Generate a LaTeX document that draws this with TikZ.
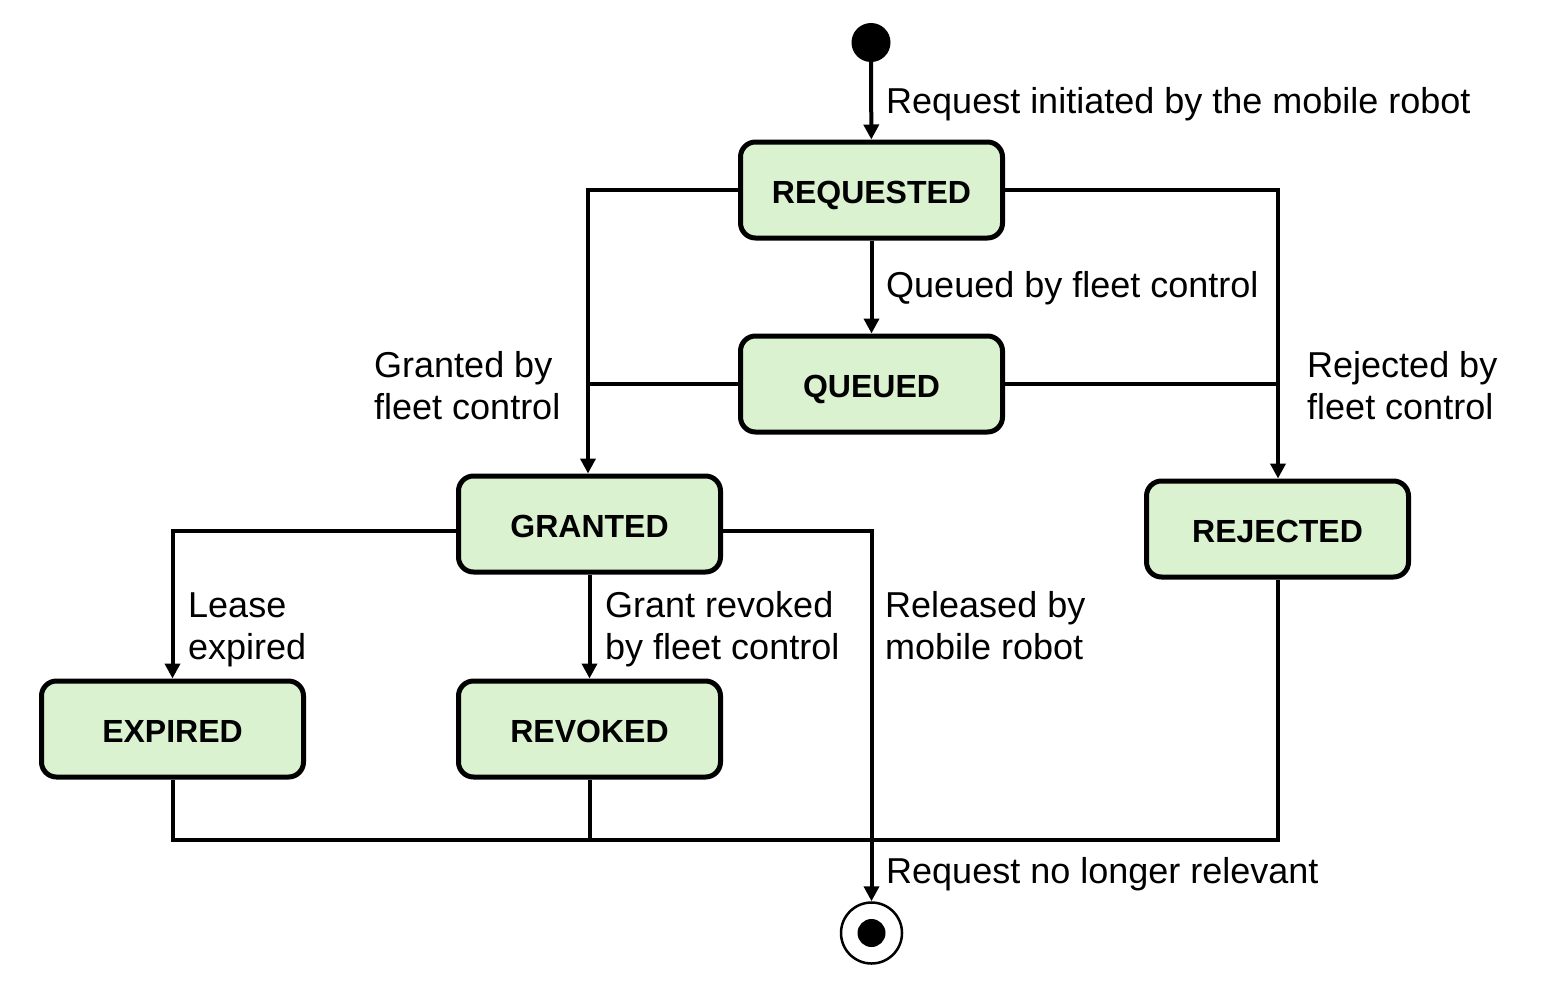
\documentclass[tikz,border=0pt]{standalone}
\usepackage{fontspec}
\setmainfont{Liberation Sans}
\usetikzlibrary{arrows.meta}
\definecolor{stfill}{RGB}{218,242,208}
\tikzset{
  state/.style={draw=black, fill=stfill, line width=5pt, rounded corners=15pt,
    minimum width=262pt, minimum height=96pt, inner sep=0pt,
    text height=26pt, text depth=0pt,
    font=\fontsize{32}{38}\selectfont\bfseries},
  conn/.style={draw=black, line width=4pt},
  arr/.style={conn, -{Triangle[width=15pt,length=15pt]}},
  lbl/.style={anchor=base west, inner sep=0pt, font=\fontsize{36}{43}\selectfont}
}
\begin{document}
\begin{tikzpicture}[x=1pt,y=-1pt]
\useasboundingbox (0,0) rectangle (1554,988);
% states
\node[state] (req) at (871.5,190) {REQUESTED};
\node[state] (que) at (871.5,384) {QUEUED};
\node[state] (gra) at (589.5,524) {GRANTED};
\node[state] (rej) at (1277.5,529) {REJECTED};
\node[state] (exp) at (172.5,729) {EXPIRED};
\node[state] (rev) at (589.5,729) {REVOKED};
% initial and final
\node[circle, fill=black, minimum size=39pt, inner sep=0pt] (init) at (871,42.5) {};
\node[circle, draw=black, line width=2.5pt, fill=white, minimum size=61pt, inner sep=0pt] (fin) at (871.5,933) {};
\node[circle, fill=black, minimum size=28pt, inner sep=0pt] (finin) at (fin.center) {};
% junction coordinates
\coordinate (jg) at (588,384);
\coordinate (jr) at (1278,384);
\coordinate (jb) at (872,840);
% connectors
\draw[arr] (init) -- (req);
\draw[arr] (req) -- (que);
\draw[arr] (req.west) -| (gra.north -| jg);
\draw[conn] (que.west) -- (jg);
\draw[arr] (req.east) -| (rej.north -| jr);
\draw[conn] (que.east) -- (jr);
\draw[arr] ([yshift=-7pt]gra.west) -| (exp.north);
\draw[arr] (gra) -- (rev);
\draw[arr] ([yshift=-7pt]gra.east) -| (fin.north);
\draw[conn] (exp.south) |- (rej.south |- jb) -- (rej.south);
\draw[conn] (rev.south) -- (rev.south |- jb);
% labels
\node[lbl] (l1) at (886,113) {Request initiated by the mobile robot};
\node[lbl] (l2) at (886,297) {Queued by fleet control};
\node[lbl] (l3a) at (374,377) {Granted by};
\node[lbl] (l3b) at (374,419) {fleet control};
\node[lbl] (l4a) at (1307,377) {Rejected by};
\node[lbl] (l4b) at (1307,419) {fleet control};
\node[lbl] (l5a) at (188,617) {Lease};
\node[lbl] (l5b) at (188,659) {expired};
\node[lbl] (l6a) at (605,617) {Grant revoked};
\node[lbl] (l6b) at (605,659) {by fleet control};
\node[lbl] (l7a) at (885,617) {Released by};
\node[lbl] (l7b) at (885,659) {mobile robot};
\node[lbl] (l8) at (886,883) {Request no longer relevant};
\end{tikzpicture}
\end{document}
